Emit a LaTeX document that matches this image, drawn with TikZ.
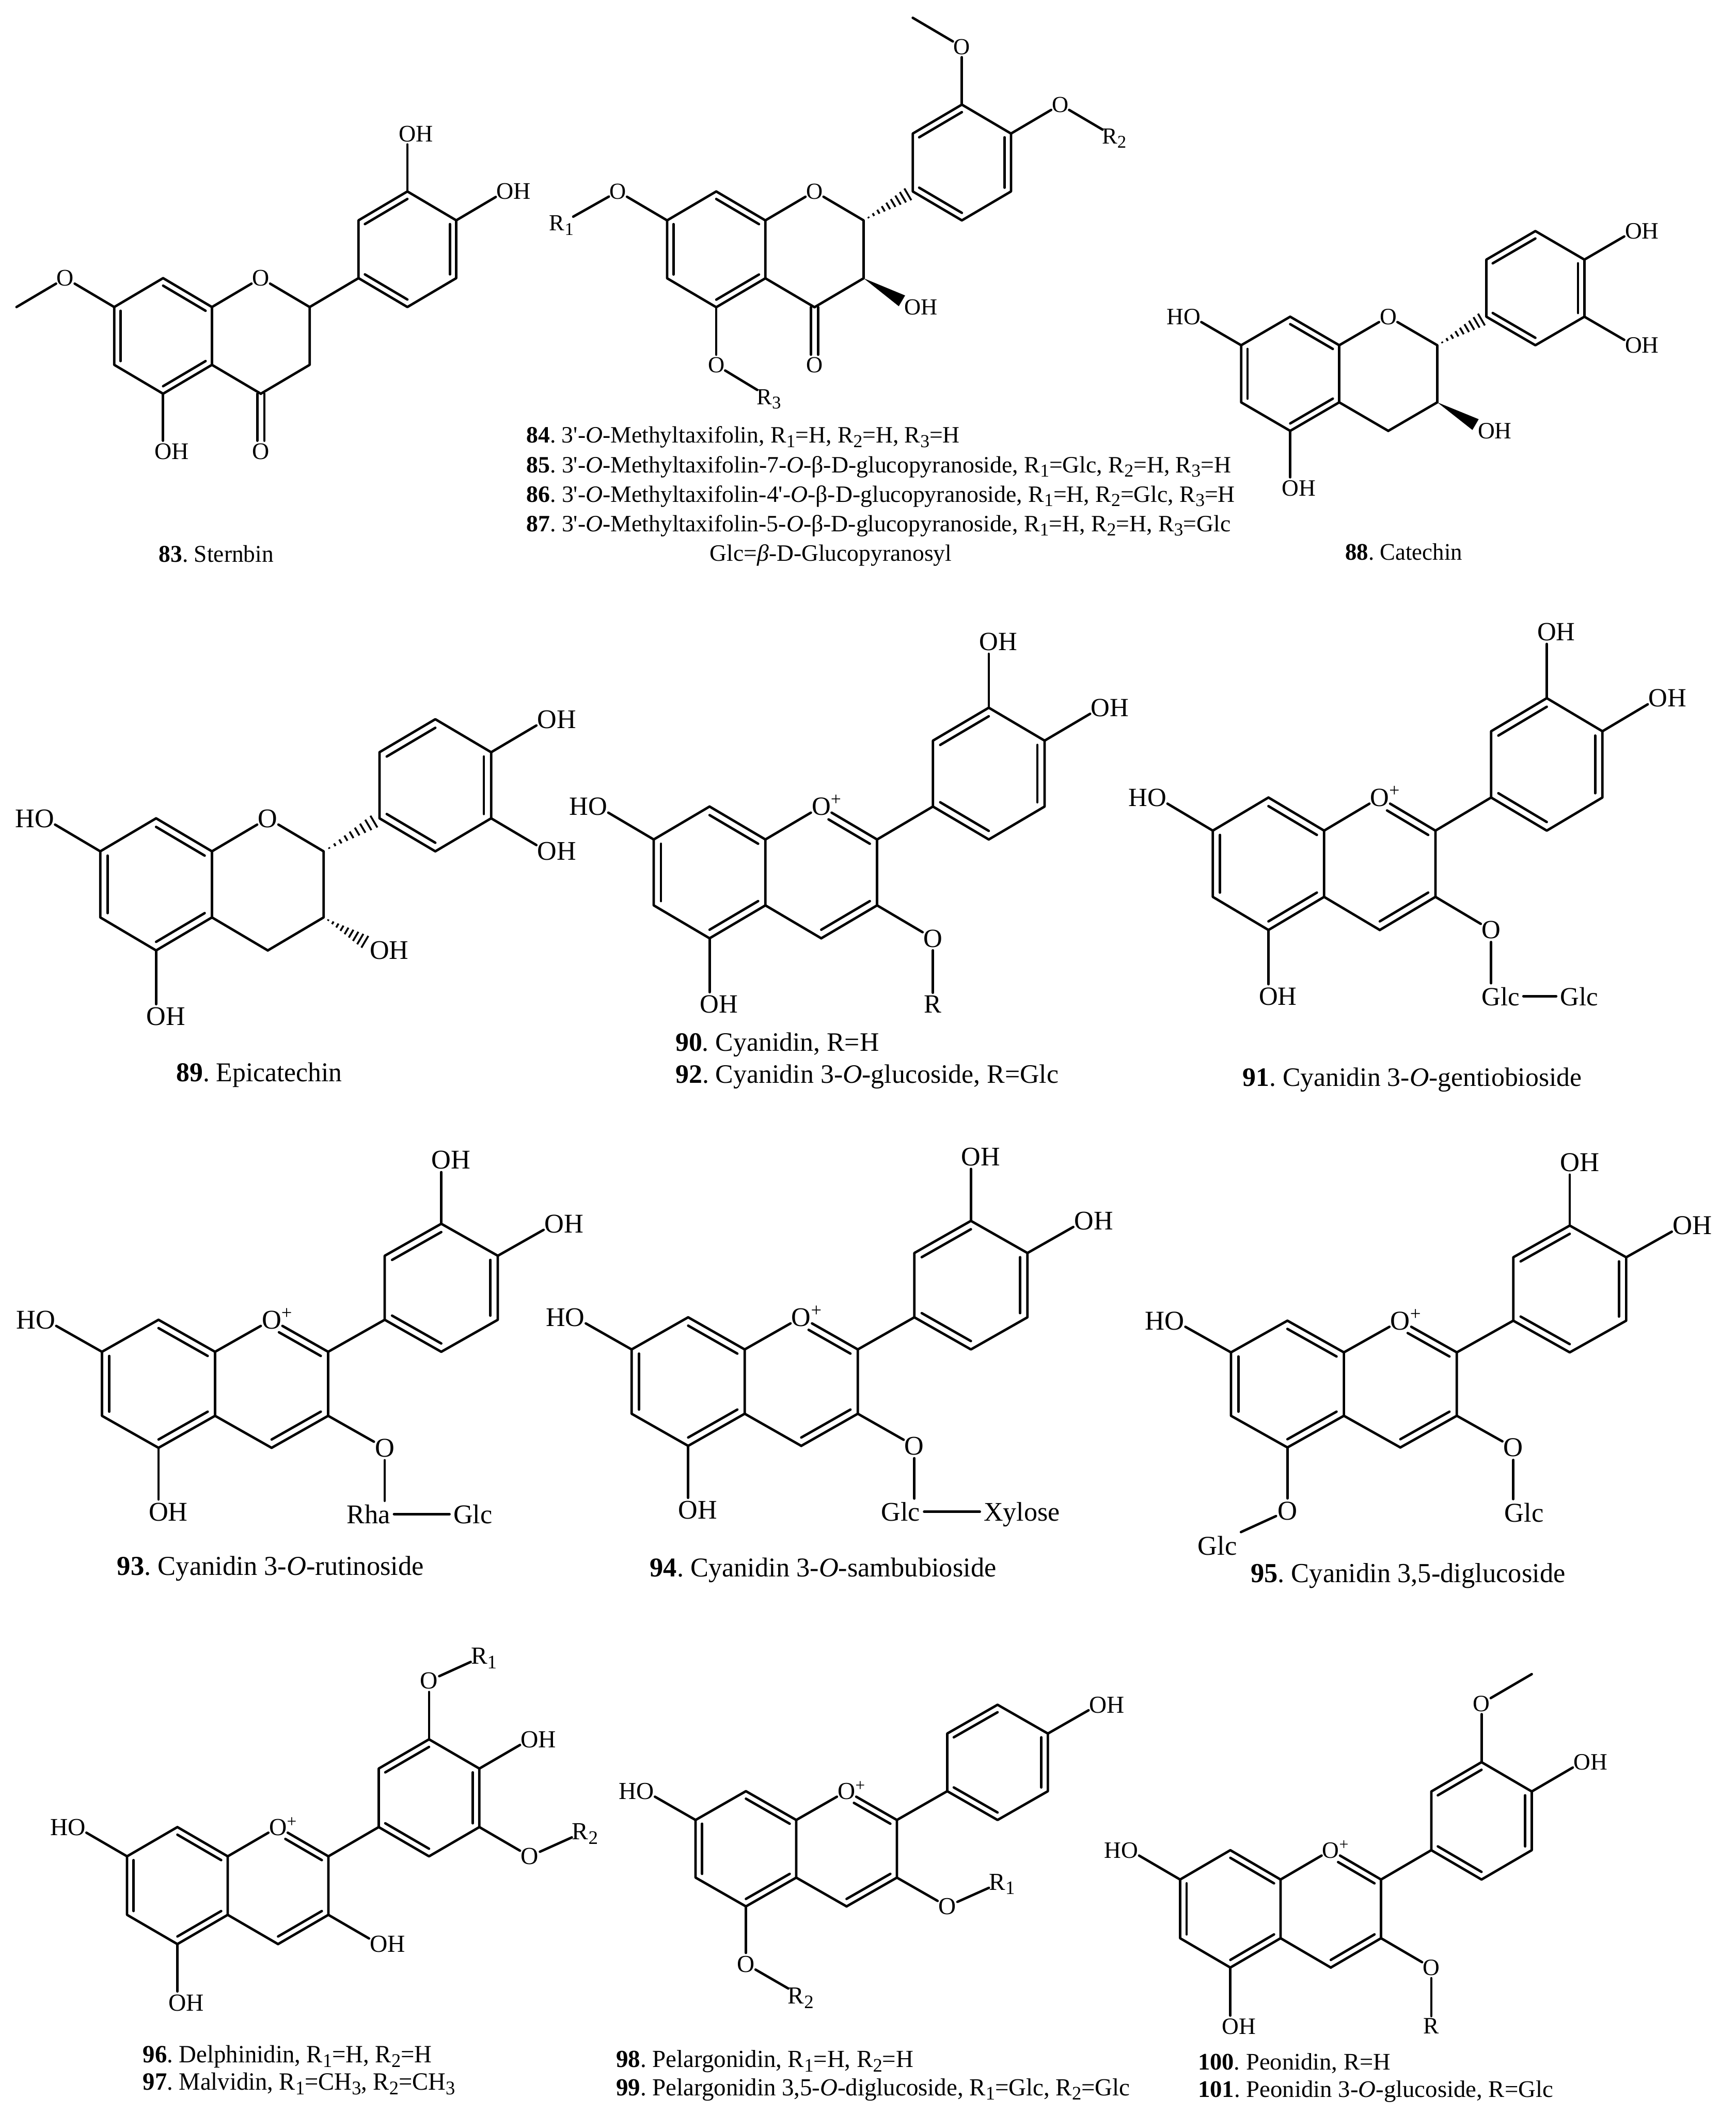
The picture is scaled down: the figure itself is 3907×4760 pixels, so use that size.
\documentclass[tikz,border=0pt]{standalone}
\usepackage{fontspec}
\setmainfont{Liberation Serif}[Ligatures=TeXOff]
\usetikzlibrary{calc}

\tikzset{
  bond/.style={line width=.055cm,line cap=round,line join=round},
  hash/.style={line width=.042cm},
  atom/.style={circle,inner sep=-.5pt,text depth=0pt},
  sugar/.style={rectangle,inner sep=2.3pt,text depth=0pt},
  atomfont/.style={atom/.append style={font=\fontsize{#1}{#1}\selectfont},sugar/.append style={font=\fontsize{#1}{#1}\selectfont}},
  capt/.style={anchor=base west,inner sep=0pt}
}

\frenchspacing
\newcommand{\hyd}{O\rlap{H}}
\newcommand{\hyl}{\llap{H}O}
\newcommand{\oxp}{O\rlap{\smash{\textsuperscript{+}}}}
\newcommand{\lowsub}[1]{\raisebox{-.4ex}{\scalebox{.78}{#1}}}
\newcommand{\Rr}[1]{R\lowsub{#1}}
\newcommand{\dblin}[3]{\draw[bond] ($(#1)!.13!(#3)$) -- ($(#2)!.13!(#3)$);}
\newcommand{\attach}[4]{\node[atom] (#2) at (#3) {#4}; \draw[bond] (#1) -- (#2);}
\newcommand{\hashbond}[2]{
  \foreach \t in {.1,.2,...,.95} {
    \pgfmathsetmacro{\w}{\t*.17}
    \draw[hash] ($(#1)!\t!(#2)!\w cm!90:(#2)$) -- ($(#1)!\t!(#2)!\w cm!-90:(#2)$);
  }
}
\newcommand{\wedgebond}[2]{\fill (#1) -- ($(#2)!.14cm!90:(#1)$) -- ($(#2)!.14cm!-90:(#1)$) -- cycle;}
\newcommand{\capline}[6]{\node[capt,font=\fontsize{#5}{#5}\selectfont] (#1) at (#2,#3) {\resizebox{#4cm}{\height}{#6}};}

% rings A and B, and the oxygen of ring C
\newcommand{\molframe}[2]{
  \foreach \n/\i/\j in {c8a/0/0,c2/2/0,c3/2/2,c4/1/3,c4a/0/2,c5/-1/3,c6/-2/2,c7/-2/0,c8/-1/-1,c1b/3/-1,c2b/3/-3,c3b/4/-4,c4b/5/-3,c5b/5/-1,c6b/4/0,ma/-1/1,mc/1/1,mb/4/-2} {
    \coordinate (#1\n) at (\i,\j);
  }
  \node[atom] (#1o1) at (1,-1) {#2};
  \draw[bond] (#1c8a) -- (#1o1);
  \draw[bond] (#1c8) -- (#1c8a) -- (#1c4a) -- (#1c5) -- (#1c6) -- (#1c7) -- (#1c8);
  \draw[bond] (#1c4a) -- (#1c4);
  \draw[bond] (#1c1b) -- (#1c2b) -- (#1c3b) -- (#1c4b) -- (#1c5b) -- (#1c6b) -- cycle;
  \dblin{#1c8a}{#1c8}{#1ma}
  \dblin{#1c7}{#1c6}{#1ma}
  \dblin{#1c5}{#1c4a}{#1ma}
  \dblin{#1c2b}{#1c3b}{#1mb}
  \dblin{#1c4b}{#1c5b}{#1mb}
  \dblin{#1c6b}{#1c1b}{#1mb}
}
\newcommand{\flavanring}[1]{
  \draw[bond] (#1o1) -- (#1c2) -- (#1c3) -- (#1c4);
}
\newcommand{\flavylium}[1]{
  \draw[bond] (#1o1) -- (#1c2) -- (#1c3) -- (#1c4);
  \draw[bond] (#1c2) -- (#1c1b);
  \draw[bond,shorten <=.19cm] ($(#1o1)!.13!(#1mc)$) -- ($(#1c2)!.13!(#1mc)$);
  \dblin{#1c3}{#1c4}{#1mc}
}

\begin{document}
\begin{tikzpicture}[x=.01cm,y=-.01cm]
\useasboundingbox (0,0) rectangle (3907,4760);

% 83
\begin{scope}[shift={(477,691)},x=1.099cm,y=-.65cm,atomfont=15.2]
  \molframe{m83}{O}
  \flavanring{m83}
  \draw[bond] (m83c2) -- (m83c1b);
  \attach{m83c7}{m83o7}{-3,-1}{O}
  \coordinate (m83me) at (-4,0);
  \draw[bond] (m83o7) -- (m83me);
  \attach{m83c5}{m83o5}{-1,5}{\hyd}
  \node[atom] (m83o4) at (1,5) {O};
  \draw[bond,transform canvas={xshift=-.08cm}] (m83c4) -- (m83o4);
  \draw[bond,transform canvas={xshift=.08cm}] (m83c4) -- (m83o4);
  \attach{m83c3b}{m83o3b}{4,-6}{\hyd}
  \attach{m83c4b}{m83o4b}{6,-4}{\hyd}
\end{scope}

% 84 to 87
\begin{scope}[shift={(1722.5,496)},x=1.105cm,y=-.651cm,atomfont=14.7]
  \molframe{m84}{O}
  \flavanring{m84}
  \hashbond{m84c2}{m84c1b}
  \attach{m84c7}{m84o7}{-3,-1}{O}
  \attach{m84o7}{m84r1}{-4.15,.1}{\Rr{1}}
  \attach{m84c5}{m84o5}{-1,5}{O}
  \attach{m84o5}{m84r3}{.07,6.1}{\Rr{3}}
  \node[atom] (m84o4) at (1,5) {O};
  \draw[bond,transform canvas={xshift=-.08cm}] (m84c4) -- (m84o4);
  \draw[bond,transform canvas={xshift=.08cm}] (m84c4) -- (m84o4);
  \node[atom] (m84o3) at (3,3) {\hyd};
  \coordinate (m84w) at ($(m84c3)!.78!(m84o3)$);
  \wedgebond{m84c3}{m84w}
  \attach{m84c3b}{m84o3b}{4,-6}{O}
  \coordinate (m84me) at (3,-7);
  \draw[bond] (m84o3b) -- (m84me);
  \attach{m84c4b}{m84o4b}{6,-4}{O}
  \attach{m84o4b}{m84r2}{7.1,-2.9}{\Rr{2}}
\end{scope}

% 88
\begin{scope}[shift={(3014,777)},x=1.103cm,y=-.642cm,atomfont=15]
  \molframe{m88}{O}
  \flavanring{m88}
  \hashbond{m88c2}{m88c1b}
  \attach{m88c7}{m88o7}{-3,-1}{\hyl}
  \attach{m88c5}{m88o5}{-1,5}{\hyd}
  \node[atom] (m88o3) at (3,3) {\hyd};
  \coordinate (m88w) at ($(m88c3)!.78!(m88o3)$);
  \wedgebond{m88c3}{m88w}
  \attach{m88c4b}{m88o4b}{6,-4}{\hyd}
  \attach{m88c5b}{m88o5b}{6,0}{\hyd}
\end{scope}

% 89
\begin{scope}[shift={(477,1916)},x=1.256cm,y=-.743cm,atomfont=17.2]
  \molframe{m89}{O}
  \flavanring{m89}
  \hashbond{m89c2}{m89c1b}
  \attach{m89c7}{m89o7}{-3,-1}{\hyl}
  \attach{m89c5}{m89o5}{-1,5}{\hyd}
  \node[atom] (m89o3) at (3,3) {\hyd};
  \coordinate (m89w) at ($(m89c3)!.82!(m89o3)$);
  \hashbond{m89c3}{m89w}
  \attach{m89c4b}{m89o4b}{6,-4}{\hyd}
  \attach{m89c5b}{m89o5b}{6,0}{\hyd}
\end{scope}

% 90, 92
\begin{scope}[shift={(1722.6,1889.3)},x=1.256cm,y=-.741cm,atomfont=16.8]
  \molframe{m90}{\oxp}
  \flavylium{m90}
  \attach{m90c7}{m90o7}{-3,-1}{\hyl}
  \attach{m90c5}{m90o5}{-1,5}{\hyd}
  \attach{m90c3}{m90o3}{3,3}{O}
  \attach{m90o3}{m90r}{3,5}{R}
  \attach{m90c3b}{m90o3b}{4,-6}{\hyd}
  \attach{m90c4b}{m90o4b}{6,-4}{\hyd}
\end{scope}

% 91
\begin{scope}[shift={(2980,1869.4)},x=1.252cm,y=-.745cm,atomfont=16.8]
  \molframe{m91}{\oxp}
  \flavylium{m91}
  \attach{m91c7}{m91o7}{-3,-1}{\hyl}
  \attach{m91c5}{m91o5}{-1,5}{\hyd}
  \attach{m91c3}{m91o3}{3,3}{O}
  \node[sugar] (m91g1) at (3.17,5) {Glc};
  \node[sugar] (m91g2) at (4.58,5) {Glc};
  \draw[bond] (m91o3) -- (m91o3 |- m91g1.north);
  \draw[bond] (m91g1) -- (m91g2);
  \attach{m91c3b}{m91o3b}{4,-6}{\hyd}
  \attach{m91c4b}{m91o4b}{6,-4}{\hyd}
\end{scope}

% 93
\begin{scope}[shift={(484,3042.3)},x=1.272cm,y=-.72cm,atomfont=17.3]
  \molframe{m93}{\oxp}
  \flavylium{m93}
  \attach{m93c7}{m93o7}{-3,-1}{\hyl}
  \attach{m93c5}{m93o5}{-1,5}{\hyd}
  \attach{m93c3}{m93o3}{3,3}{O}
  \node[sugar] (m93g1) at (2.71,5.07) {Rha};
  \node[sugar] (m93g2) at (4.56,5.07) {Glc};
  \draw[bond] (m93o3) -- (m93o3 |- m93g1.north);
  \draw[bond] (m93g1) -- (m93g2);
  \attach{m93c3b}{m93o3b}{4,-6}{\hyd}
  \attach{m93c4b}{m93o4b}{6,-4}{\hyd}
\end{scope}

% 94
\begin{scope}[shift={(1676,3037)},x=1.272cm,y=-.723cm,atomfont=17.2]
  \molframe{m94}{\oxp}
  \flavylium{m94}
  \attach{m94c7}{m94o7}{-3,-1}{\hyl}
  \attach{m94c5}{m94o5}{-1,5}{\hyd}
  \attach{m94c3}{m94o3}{3,3}{O}
  \node[sugar] (m94g1) at (2.76,5.05) {Glc};
  \node[sugar] (m94g2) at (4.9,5.05) {Xylose};
  \draw[bond] (m94o3) -- (m94o3 |- m94g1.north);
  \draw[bond] (m94g1) -- (m94g2);
  \attach{m94c3b}{m94o3b}{4,-6}{\hyd}
  \attach{m94c4b}{m94o4b}{6,-4}{\hyd}
\end{scope}

% 95
\begin{scope}[shift={(3024.5,3043.6)},x=1.27cm,y=-.713cm,atomfont=17.4]
  \molframe{m95}{\oxp}
  \flavylium{m95}
  \attach{m95c7}{m95o7}{-3,-1}{\hyl}
  \attach{m95c5}{m95o5}{-1,5}{O}
  \node[sugar] (m95g5) at (-2.24,6.09) {Glc};
  \draw[bond] (m95o5) -- (m95g5.north east);
  \attach{m95c3}{m95o3}{3,3}{O}
  \node[sugar] (m95g3) at (3.19,5.05) {Glc};
  \draw[bond] (m95o3) -- (m95o3 |- m95g3.north);
  \attach{m95c3b}{m95o3b}{4,-6}{\hyd}
  \attach{m95c4b}{m95o4b}{6,-4}{\hyd}
\end{scope}

% 96, 97
\begin{scope}[shift={(512.5,4177.8)},x=1.132cm,y=-.658cm,atomfont=15.7]
  \molframe{m96}{\oxp}
  \flavylium{m96}
  \attach{m96c7}{m96o7}{-3,-1}{\hyl}
  \attach{m96c5}{m96o5}{-1,5}{\hyd}
  \attach{m96c3}{m96o3}{3,3}{\hyd}
  \attach{m96c3b}{m96o3b}{4,-6}{O}
  \attach{m96o3b}{m96r1}{5.09,-6.85}{\Rr{1}}
  \attach{m96c4b}{m96o4b}{6,-4}{\hyd}
  \attach{m96c5b}{m96o5b}{6,0}{O}
  \attach{m96o5b}{m96r2}{7.1,-.85}{\Rr{2}}
\end{scope}

% 98, 99
\begin{scope}[shift={(1792,4096)},x=1.132cm,y=-.648cm,atomfont=15.6]
  \molframe{m98}{\oxp}
  \flavylium{m98}
  \attach{m98c7}{m98o7}{-3,-1}{\hyl}
  \attach{m98c5}{m98o5}{-1,5}{O}
  \attach{m98o5}{m98r2}{.09,6.1}{\Rr{2}}
  \attach{m98c3}{m98o3}{3,3}{O}
  \attach{m98o3}{m98r1}{4.09,2.15}{\Rr{1}}
  \attach{m98c4b}{m98o4b}{6,-4}{\hyd}
\end{scope}

% 100, 101
\begin{scope}[shift={(2882,4230)},x=1.13cm,y=-.66cm,atomfont=15]
  \molframe{m100}{\oxp}
  \flavylium{m100}
  \attach{m100c7}{m100o7}{-3,-1}{\hyl}
  \attach{m100c5}{m100o5}{-1,5}{\hyd}
  \attach{m100c3}{m100o3}{3,3}{O}
  \attach{m100o3}{m100r}{3,5}{R}
  \attach{m100c3b}{m100o3b}{4,-6}{O}
  \coordinate (m100me) at (5,-7);
  \draw[bond] (m100o3b) -- (m100me);
  \attach{m100c4b}{m100o4b}{6,-4}{\hyd}
\end{scope}

\capline{c83}{357}{1265}{2.58}{15.4}{\textbf{83}. Sternbin}
\capline{c84}{1184}{997}{9.75}{15}{\textbf{84}. 3'-\textit{O}-Methyltaxifolin, \Rr{1}=H, \Rr{2}=H, \Rr{3}=H}
\capline{c85}{1184}{1064}{15.85}{15}{\textbf{85}. 3'-\textit{O}-Methyltaxifolin-7-\textit{O}-β-D-glucopyranoside, \Rr{1}=Glc, \Rr{2}=H, \Rr{3}=H}
\capline{c86}{1184}{1130}{15.94}{15}{\textbf{86}. 3'-\textit{O}-Methyltaxifolin-4'-\textit{O}-β-D-glucopyranoside, \Rr{1}=H, \Rr{2}=Glc, \Rr{3}=H}
\capline{c87}{1184}{1196}{15.84}{15}{\textbf{87}. 3'-\textit{O}-Methyltaxifolin-5-\textit{O}-β-D-glucopyranoside, \Rr{1}=H, \Rr{2}=H, \Rr{3}=Glc}
\capline{cglc}{1597}{1263}{5.44}{15}{Glc=\textit{β}-D-Glucopyranosyl}
\capline{c88}{3027}{1260}{2.63}{15.2}{\textbf{88}. Catechin}
\capline{c89}{396}{2434}{3.73}{17.4}{\textbf{89}. Epicatechin}
\capline{c90}{1519.5}{2366}{4.58}{17}{\textbf{90}. Cyanidin, R=H}
\capline{c92}{1519.5}{2438}{8.62}{17}{\textbf{92}. Cyanidin 3-\textit{O}-glucoside, R=Glc}
\capline{c91}{2796}{2445}{7.63}{17}{\textbf{91}. Cyanidin 3-\textit{O}-gentiobioside}
\capline{c93}{263}{3545}{6.9}{17.5}{\textbf{93}. Cyanidin 3-\textit{O}-rutinoside}
\capline{c94}{1462}{3548}{7.79}{17.4}{\textbf{94}. Cyanidin 3-\textit{O}-sambubioside}
\capline{c95}{2814}{3561}{7.08}{17.6}{\textbf{95}. Cyanidin 3,5-diglucoside}
\capline{c96}{321}{4642}{6.5}{15.9}{\textbf{96}. Delphinidin, \Rr{1}=H, \Rr{2}=H}
\capline{c97}{321}{4704}{7.02}{15.9}{\textbf{97}. Malvidin, \Rr{1}=CH\lowsub{3}, \Rr{2}=CH\lowsub{3}}
\capline{c98}{1386}{4653}{6.69}{15.7}{\textbf{98}. Pelargonidin, \Rr{1}=H, \Rr{2}=H}
\capline{c99}{1386}{4716}{11.56}{15.7}{\textbf{99}. Pelargonidin 3,5-\textit{O}-diglucoside, \Rr{1}=Glc, \Rr{2}=Glc}
\capline{c100}{2695.5}{4658}{4.33}{15.2}{\textbf{100}. Peonidin, R=H}
\capline{c101}{2695.5}{4720}{7.99}{15.2}{\textbf{101}. Peonidin 3-\textit{O}-glucoside, R=Glc}
\end{tikzpicture}
\end{document}
